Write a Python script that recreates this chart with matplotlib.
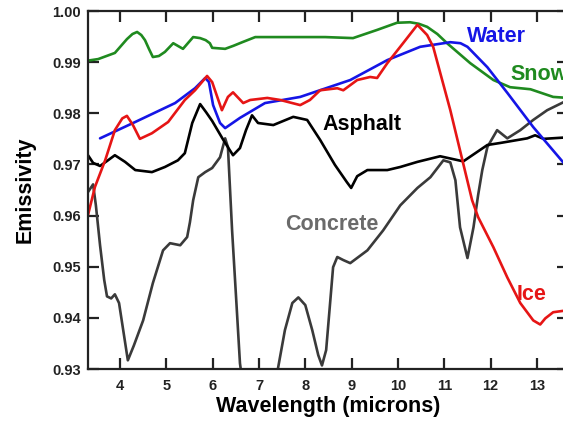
import matplotlib
matplotlib.use("Agg")
import matplotlib.pyplot as plt

# ---------------- data (wavelength in microns, emissivity) ----------------
snow_x = [3.31, 3.53, 3.89, 4.15, 4.27, 4.37, 4.46, 4.54, 4.63, 4.71, 4.84, 4.97,
          5.15, 5.36, 5.58, 5.73, 5.85, 5.94, 5.99, 6.27, 6.45, 6.64, 6.92, 8.43,
          9.03, 9.55, 9.98, 10.26, 10.45, 10.63, 10.85, 11.06, 11.56, 12.06, 12.42,
          12.86, 13.35, 13.67]
snow_y = [0.9903, 0.9906, 0.9918, 0.9945, 0.9955, 0.9959, 0.9953, 0.9943, 0.9925,
          0.9910, 0.9912, 0.9920, 0.9937, 0.9926, 0.9949, 0.9947, 0.9943, 0.9937,
          0.9928, 0.9926, 0.9932, 0.9939, 0.9949, 0.9949, 0.9947, 0.9963, 0.9977,
          0.9978, 0.9975, 0.9969, 0.9955, 0.9937, 0.9898, 0.9865, 0.9851, 0.9847,
          0.9832, 0.9830]

water_x = [3.57, 4.33, 5.19, 5.62, 5.84, 5.92, 6.01, 6.16, 6.27, 6.59, 7.13, 7.89,
           8.97, 9.77, 10.48, 11.13, 11.35, 11.50, 11.93, 12.36, 12.92, 13.67]
water_y = [0.9751, 0.9783, 0.9820, 0.9849, 0.9869, 0.9861, 0.9816, 0.9781, 0.9771,
           0.9791, 0.9820, 0.9832, 0.9865, 0.9904, 0.9930, 0.9939, 0.9937, 0.9930,
           0.9890, 0.9840, 0.9773, 0.9693]

ice_x = [3.31, 3.46, 3.68, 3.89, 4.05, 4.15, 4.28, 4.43, 4.69, 5.04, 5.40, 5.62,
         5.88, 5.99, 6.10, 6.20, 6.33, 6.44, 6.66, 6.81, 7.18, 7.46, 7.89, 8.10,
         8.32, 8.69, 8.82, 9.12, 9.40, 9.55, 9.77, 10.11, 10.42, 10.63, 10.76,
         11.13, 11.60, 11.73, 12.06, 12.36, 12.64, 12.92, 13.07, 13.18, 13.35, 13.67]
ice_y = [0.9601, 0.9656, 0.9708, 0.9767, 0.9790, 0.9795, 0.9777, 0.9750, 0.9761,
         0.9783, 0.9826, 0.9845, 0.9873, 0.9861, 0.9832, 0.9806, 0.9832, 0.9841,
         0.9820, 0.9826, 0.9830, 0.9826, 0.9816, 0.9826, 0.9845, 0.9849, 0.9845,
         0.9865, 0.9871, 0.9869, 0.9898, 0.9937, 0.9973, 0.9953, 0.9930, 0.9806,
         0.9630, 0.9597, 0.9538, 0.9479, 0.9429, 0.9395, 0.9387, 0.9399, 0.9411,
         0.9415]

asphalt_x = [3.31, 3.42, 3.57, 3.74, 3.89, 4.11, 4.33, 4.69, 4.97, 5.25, 5.40, 5.56,
             5.73, 5.86, 5.99, 6.23, 6.44, 6.59, 6.72, 6.85, 6.98, 7.31, 7.74, 8.04,
             8.32, 8.64, 8.90, 8.99, 9.12, 9.34, 9.77, 10.05, 10.42, 10.91, 11.41,
             11.93, 12.21, 12.79, 12.96, 13.14, 13.67]
asphalt_y = [0.9718, 0.9703, 0.9697, 0.9708, 0.9718, 0.9705, 0.9689, 0.9685, 0.9695,
             0.9708, 0.9722, 0.9781, 0.9818, 0.9802, 0.9785, 0.9748, 0.9718, 0.9732,
             0.9767, 0.9796, 0.9781, 0.9777, 0.9793, 0.9787, 0.9748, 0.9699, 0.9665,
             0.9654, 0.9677, 0.9689, 0.9689, 0.9695, 0.9705, 0.9716, 0.9706, 0.9738,
             0.9742, 0.9751, 0.9757, 0.9750, 0.9753]

concrete_x = [3.31, 3.42, 3.48, 3.57, 3.66, 3.72, 3.81, 3.89, 3.98, 4.07, 4.17, 4.30,
              4.50, 4.71, 4.93, 5.08, 5.30, 5.45, 5.51, 5.58, 5.69, 5.84, 5.99, 6.16,
              6.27, 6.33, 6.42, 6.51, 6.59, 6.64, 7.35, 7.41, 7.56, 7.72, 7.85, 8.00,
              8.15, 8.28, 8.36, 8.45, 8.54, 8.60, 8.69, 8.82, 8.97, 9.34, 9.68, 10.05,
              10.42, 10.70, 10.98, 11.13, 11.24, 11.34, 11.50, 11.63, 11.73, 11.82,
              11.93, 12.14, 12.36, 12.64, 12.92, 13.22, 13.67]
concrete_y = [0.9646, 0.9661, 0.9620, 0.9542, 0.9474, 0.9442, 0.9438, 0.9446, 0.9429,
              0.9376, 0.9317, 0.9346, 0.9395, 0.9468, 0.9532, 0.9546, 0.9542, 0.9558,
              0.9587, 0.9630, 0.9675, 0.9685, 0.9693, 0.9714, 0.9751, 0.9734, 0.9571,
              0.9434, 0.9311, 0.9278, 0.9268, 0.9301, 0.9376, 0.9429, 0.9440, 0.9425,
              0.9376, 0.9327, 0.9307, 0.9337, 0.9434, 0.9499, 0.9519, 0.9513, 0.9507,
              0.9532, 0.9571, 0.9620, 0.9654, 0.9675, 0.9708, 0.9704, 0.9669, 0.9577,
              0.9517, 0.9577, 0.9640, 0.9689, 0.9734, 0.9767, 0.9751, 0.9767, 0.9787,
              0.9806, 0.9826]

x_ticks = [4, 5, 6, 7, 8, 9, 10, 11, 12, 13]
y_ticks = [0.93, 0.94, 0.95, 0.96, 0.97, 0.98, 0.99, 1.00]

# ---------------- figure ----------------
FONT = ["Liberation Sans", "DejaVu Sans"]
plt.rcParams["font.family"] = FONT
plt.rcParams["font.weight"] = "bold"

W, H = 563, 423
fig = plt.figure(figsize=(W / 100, H / 100), dpi=100)
ax = fig.add_axes([88 / W, (H - 369) / H, 480 / W, 358 / H])

lw = 1.9
common = dict(lw=lw, solid_joinstyle="round", solid_capstyle="round")
ax.plot(concrete_x, concrete_y, color="#3a3a3a", **common)
ax.plot(asphalt_x, asphalt_y, color="#000000", **common)
ax.plot(snow_x, snow_y, color="#1f8a1f", **common)
ax.plot(water_x, water_y, color="#1515e6", **common)
ax.plot(ice_x, ice_y, color="#e61515", **common)

ax.set_xlim(3.31, 13.67)
ax.set_ylim(0.93, 1.00)
ax.set_xticks(x_ticks)
ax.set_yticks(y_ticks)
ax.set_xticklabels([str(t) for t in x_ticks])
ax.set_yticklabels([f"{t:.2f}" for t in y_ticks])
ax.tick_params(direction="in", length=8, width=1.6, top=True, right=True,
               labelsize=10.5, colors="#222222")
ax.tick_params(axis="x", pad=7)
ax.tick_params(axis="y", pad=5)
for lab in ax.get_xticklabels() + ax.get_yticklabels():
    lab.set_fontweight("bold")
for s in ax.spines.values():
    s.set_linewidth(1.6)
    s.set_color("#222222")

ax.set_xlabel("Wavelength (microns)", fontsize=15.5, fontweight="bold")
ax.set_ylabel("Emissivity", fontsize=15.5, fontweight="bold")
ax.xaxis.set_label_coords(0.5, -0.075)
ax.yaxis.set_label_coords(-0.11, 0.5)

tk = dict(fontsize=15.5, fontweight="bold", ha="left", va="baseline")
ax.text(11.49, 0.9940, "Water", color="#1515e6", **tk)
ax.text(12.42, 0.9865, "Snow", color="#1f8a1f", clip_on=False, **tk)
ax.text(8.36, 0.9767, "Asphalt", color="#000000", **tk)
ax.text(7.56, 0.9572, "Concrete", color="#6a6a6a", **tk)
ax.text(12.57, 0.9435, "Ice", color="#e61515", **tk)

fig.savefig("out.png", dpi=100)
